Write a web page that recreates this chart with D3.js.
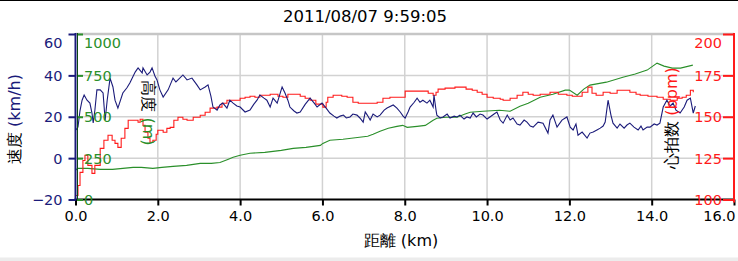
<!DOCTYPE html>
<html><head><meta charset="utf-8">
<script src="https://cdn.jsdelivr.net/npm/d3@7/dist/d3.min.js"></script>
<style>
html,body{margin:0;padding:0;background:#fff;}
svg{display:block;font-family:"DejaVu Sans",Verdana,sans-serif;}
</style></head><body>
<svg id="c" width="738" height="261"></svg>
<script>
const title = "2011/08/07 9:59:05";
const xTicks = [0,2,4,6,8,10,12,14,16];
const speedTicks = [-20,0,20,40,60];
const altTicks = [0,250,500,750,1000];
const hrTicks = [100,125,150,175,200];

const speedKm = [0.01,0.06,0.11,0.16,0.21,0.28,0.35,0.40,0.43,0.47,0.52,0.60,0.67,0.72,0.77,0.84,0.91,0.96,1.03,1.15,1.25,1.32,1.45,1.52,1.62,1.64,1.74,1.81,1.86,1.93,1.98,2.05,2.13,2.25,2.37,2.44,2.49,2.61,2.71,2.83,2.95,3.03,3.15,3.22,3.29,3.34,3.44,3.51,3.58,3.68,3.75,3.83,3.92,4.00,4.12,4.24,4.33,4.41,4.48,4.58,4.65,4.73,4.80,4.90,5.02,5.09,5.16,5.21,5.31,5.38,5.46,5.58,5.70,5.80,5.87,5.99,6.09,6.18,6.28,6.35,6.43,6.51,6.58,6.67,6.74,6.84,6.91,6.99,7.04,7.09,7.16,7.23,7.33,7.40,7.50,7.57,7.72,7.81,7.89,7.96,8.01,8.08,8.13,8.23,8.30,8.37,8.44,8.54,8.61,8.69,8.71,8.76,8.78,8.86,8.93,9.03,9.10,9.20,9.27,9.34,9.44,9.51,9.59,9.66,9.74,9.83,9.90,10.00,10.07,10.17,10.24,10.32,10.39,10.49,10.56,10.63,10.73,10.80,10.90,10.97,11.05,11.12,11.24,11.36,11.48,11.53,11.60,11.70,11.82,11.94,12.02,12.09,12.16,12.21,12.31,12.43,12.50,12.58,12.67,12.75,12.82,12.87,12.94,13.01,13.06,13.16,13.23,13.33,13.40,13.47,13.57,13.67,13.74,13.79,13.89,13.96,14.06,14.13,14.20,14.28,14.37,14.45,14.52,14.59,14.69,14.79,14.86,14.94,15.01,15.06];
const speedVals = [13.6,15,23,28,30.5,28,26.6,21.8,17,23,33,33,31.5,18.4,28,38.7,34.4,28,24.2,31.5,34,36.3,41.6,43.6,41.2,43.6,40.2,41.6,43.6,39.7,37.8,33,29.5,33,38.7,36.8,37.8,40.2,37.8,38.7,35.4,33,34.4,35.4,30,24.7,23.2,25.7,26.6,24.2,28,26.6,25.2,24.7,22.3,23.2,26,28,30.5,29,28,24.7,29,26.6,34.4,31.5,28,24.7,22.8,21.8,22.3,26,29,26.6,24.7,26.6,24.2,21.8,20.3,19.4,20.3,20.8,19.4,19.9,21.3,20.8,19.4,17.4,22.3,20.8,18.4,21.3,19.9,20.8,23.2,24.2,25.7,24.2,22.3,20.3,19.4,22.3,24.7,27,29,27,28,26.6,28,24.7,30.5,23.2,20.8,19.4,19.9,21.3,19.4,20.3,19.9,20.8,18.9,19.9,19.4,21.8,19.9,21.3,20.8,18.9,19.9,21.3,22.3,18.4,16.9,20.8,18.4,19.4,16.5,16,18.4,17.4,15.5,15,17.4,16.9,12.1,18.4,20.8,15,18.4,19.9,15,13.6,16.5,11.1,12.6,9.7,12.1,12.6,13.6,14.5,15.5,17.4,28,20.8,16.9,14.5,16.5,14.5,16,16.9,15,13.6,15.5,13.6,15,15,16.5,16,16.9,24.7,28,25.2,26.6,23.2,21.8,24.7,28,29,21.8,25.2];

const hrKm = [0.01,0.06,0.11,0.18,0.23,0.30,0.40,0.47,0.60,0.69,0.79,0.89,0.96,1.03,1.11,1.20,1.28,1.45,1.52,1.57,1.64,1.69,1.76,1.81,1.88,1.96,2.00,2.13,2.22,2.30,2.39,2.49,2.61,2.71,2.86,3.03,3.15,3.27,3.44,3.56,3.68,3.83,4.00,4.12,4.24,4.36,4.48,4.73,4.92,5.04,5.16,5.29,5.46,5.58,5.70,5.84,6.01,6.09,6.13,6.26,6.35,6.47,6.60,6.74,6.87,6.99,7.16,7.33,7.47,7.64,7.89,8.01,8.25,8.44,8.57,8.69,8.76,8.81,8.98,9.10,9.22,9.34,9.49,9.64,9.76,9.88,10.00,10.15,10.32,10.39,10.56,10.73,10.87,11.00,11.12,11.29,11.53,11.73,11.94,12.07,12.19,12.31,12.45,12.55,12.65,12.82,12.99,13.16,13.31,13.47,13.62,13.72,13.91,14.13,14.28,14.45,14.62,14.74,14.84,14.94,15.01];
const hrVals = [102.4,108.5,116.4,123.6,126.7,120.6,115.8,120.6,130.9,135.8,138.8,135.8,133.9,131.5,137,143,147.9,147.9,146.7,148.5,144.8,140.6,137,134.5,135.8,139.4,141.8,140.6,143,143.6,147.9,149.7,148.5,147.9,149.7,150.9,152.7,155.2,155.8,158.2,160,160,161.2,161.8,162.4,161.8,163,163.6,162.4,161.8,163.6,163.6,162.4,161.2,160,157.6,155.8,158.8,161.8,163,163,162.4,161.8,158.8,158.2,158.2,158.2,158.8,161.2,161.8,161.8,165.5,165.5,165.5,164.2,163,164.8,166.7,167.3,167.3,167.9,167.9,166.7,166,164.8,163.6,161.8,161.2,160.6,160,161.2,163,164.8,163.6,163,163.6,164.8,163.6,163,162.4,162.4,164.8,167.9,164.2,163,164.8,164.2,166,166,164.8,163.6,163,162.4,161.8,160.6,160,161.2,161.8,163,166,164.8];

const altKm = [0.0,0.05,0.3,0.6,0.9,1.15,1.4,1.6,1.88,2.1,2.37,2.7,3.03,3.3,3.51,3.7,3.83,4.0,4.24,4.6,5.0,5.29,5.6,5.95,6.01,6.18,6.5,6.9,7.1,7.23,7.4,7.6,7.81,7.95,8.06,8.3,8.5,8.69,8.78,9.0,9.27,9.45,9.59,9.9,10.3,10.56,10.8,11.0,11.29,11.6,11.9,12.0,12.19,12.35,12.5,12.9,13.3,13.6,13.89,14.13,14.3,14.5,14.7,15.0];
const altVals = [176,188,188,182,182,188,194,194,188,194,200,206,218,218,224,242,255,267,279,285,297,309,315,327,339,358,364,376,382,394,412,430,442,448,436,442,448,479,491,497,497,515,527,533,539,533,564,582,618,636,661,661,630,667,691,709,739,758,782,824,806,794,794,812];

const svg = d3.select("#c");
const L = 75.5, R = 734, T = 34, B = 199.5;
const x = d3.scaleLinear().domain([0,16]).range([L,R]);
const ySpd = d3.scaleLinear().domain([-20,60]).range([B,T]);
const yAlt = d3.scaleLinear().domain([0,1000]).range([B,T]);
const yHr = d3.scaleLinear().domain([100,200]).range([B,T]);

const navy = "#1b1b7a", green = "#2a8f2a", red = "#ff1a1a";
const FF = "DejaVu Sans, Verdana, sans-serif";

// frame bits
svg.append("line").attr("x1",0).attr("x2",738).attr("y1",0.5).attr("y2",0.5).attr("stroke","#000");
svg.append("rect").attr("x",0).attr("y",257.5).attr("width",738).attr("height",4).attr("fill","#ececec");

// grid
const g = svg.append("g");
g.selectAll(".vg").data(xTicks.filter(d=>d>0&&d<16)).join("line")
  .attr("x1",d=>x(d)).attr("x2",d=>x(d)).attr("y1",T).attr("y2",B)
  .attr("stroke","#d2d2d2").attr("stroke-width",1.5);
g.selectAll(".hg").data(speedTicks.filter(d=>d>-20&&d<60)).join("line")
  .attr("x1",L).attr("x2",R).attr("y1",d=>ySpd(d)).attr("y2",d=>ySpd(d))
  .attr("stroke","#d2d2d2").attr("stroke-width",1.5);
g.append("line").attr("x1",L).attr("x2",R).attr("y1",T).attr("y2",T)
  .attr("stroke","#c6c6c6").attr("stroke-width",2.5);

// series
const line = (yS) => d3.line().x(d=>x(d[0])).y(d=>yS(d[1]));
svg.append("path").datum(d3.zip(altKm,altVals)).attr("d",line(yAlt))
  .attr("fill","none").attr("stroke",green).attr("stroke-width",1.1);
svg.append("path").datum(d3.zip(hrKm,hrVals)).attr("d",d3.line().curve(d3.curveStepAfter).x(d=>x(d[0])).y(d=>yHr(d[1])))
  .attr("fill","none").attr("stroke",red).attr("stroke-width",1.1);
svg.append("path").datum(d3.zip(speedKm,speedVals)).attr("d",line(ySpd))
  .attr("fill","none").attr("stroke",navy).attr("stroke-width",1.1);

// axis titles inside plot
const alt = svg.append("text").attr("transform","translate(149,113) rotate(90)")
  .attr("text-anchor","middle").attr("dominant-baseline","central").attr("font-size",16);
alt.append("tspan").attr("fill","#000").text("高度 ");
alt.append("tspan").attr("fill",green).text("(m)");
const hrl = svg.append("text").attr("transform","translate(671,118) rotate(-90)")
  .attr("text-anchor","middle").attr("dominant-baseline","central").attr("font-size",16);
hrl.append("tspan").attr("fill","#000").text("心拍数 ");
hrl.append("tspan").attr("fill",red).text("(bpm)");

// bottom axis
const xa = svg.append("g").attr("transform",`translate(0,${B})`)
  .call(d3.axisBottom(x).tickValues(xTicks).tickFormat(d3.format(".1f")).tickSize(6).tickPadding(5));
xa.select(".domain").remove();
xa.selectAll(".tick line").attr("stroke","#000").attr("stroke-width",2);
xa.selectAll(".tick text").attr("font-size",14.5).attr("fill","#000").attr("font-family",FF)
  .attr("text-anchor",d=>d===16?"end":"middle").attr("dx",d=>d===16?"1px":0);
svg.append("line").attr("x1",L-1).attr("x2",R).attr("y1",B).attr("y2",B).attr("stroke","#000").attr("stroke-width",2);

// left speed axis
const la = svg.append("g").attr("transform",`translate(${L},0)`)
  .call(d3.axisLeft(ySpd).tickValues(speedTicks).tickSize(7).tickPadding(6));
la.select(".domain").remove();
la.selectAll(".tick line").attr("stroke",navy).attr("stroke-width",2);
la.selectAll(".tick text").attr("font-size",14.5).attr("fill",navy).attr("font-family",FF)
  .attr("dy",d=>d===60?"0.95em":"0.35em");

// green altitude axis (labels inside)
const ga = svg.append("g").attr("transform",`translate(${L+1.5},0)`)
  .call(d3.axisRight(yAlt).tickValues(altTicks).tickFormat(d3.format("d")).tickSize(6).tickPadding(1));
ga.select(".domain").remove();
ga.selectAll(".tick line").attr("stroke",green).attr("stroke-width",2);
ga.selectAll(".tick text").attr("font-size",14.5).attr("fill",green).attr("font-family",FF)
  .attr("dy",d=>d===1000?"0.95em":"0.35em");

// right HR axis (labels inside)
const ra = svg.append("g").attr("transform",`translate(${R},0)`)
  .call(d3.axisLeft(yHr).tickValues(hrTicks).tickSize(11).tickPadding(1));
ra.select(".domain").remove();
ra.selectAll(".tick line").attr("stroke",red).attr("stroke-width",2);
ra.selectAll(".tick text").attr("font-size",14.5).attr("fill",red).attr("font-family",FF)
  .attr("dy",d=>d===200?"0.95em":"0.35em");

// axis lines
svg.append("line").attr("x1",L).attr("x2",L).attr("y1",T-1).attr("y2",B+1).attr("stroke",navy).attr("stroke-width",2);
svg.append("line").attr("x1",L+2).attr("x2",L+2).attr("y1",T-1).attr("y2",B).attr("stroke","#0c4a10").attr("stroke-width",1);
svg.append("line").attr("x1",R).attr("x2",R).attr("y1",T-1).attr("y2",B+3).attr("stroke",red).attr("stroke-width",2);

// titles
svg.append("text").attr("x",365).attr("y",22).attr("text-anchor","middle").attr("font-size",16.5).attr("fill","#000").text(title);
svg.append("text").attr("x",401).attr("y",246).attr("text-anchor","middle").attr("font-size",16).attr("fill","#000").text("距離 (km)");
const sl = svg.append("text").attr("transform","translate(14,119) rotate(-90)")
  .attr("text-anchor","middle").attr("dominant-baseline","central").attr("font-size",16);
sl.append("tspan").attr("fill","#000").text("速度 ");
sl.append("tspan").attr("fill",navy).text("(km/h)");
</script></body></html>
